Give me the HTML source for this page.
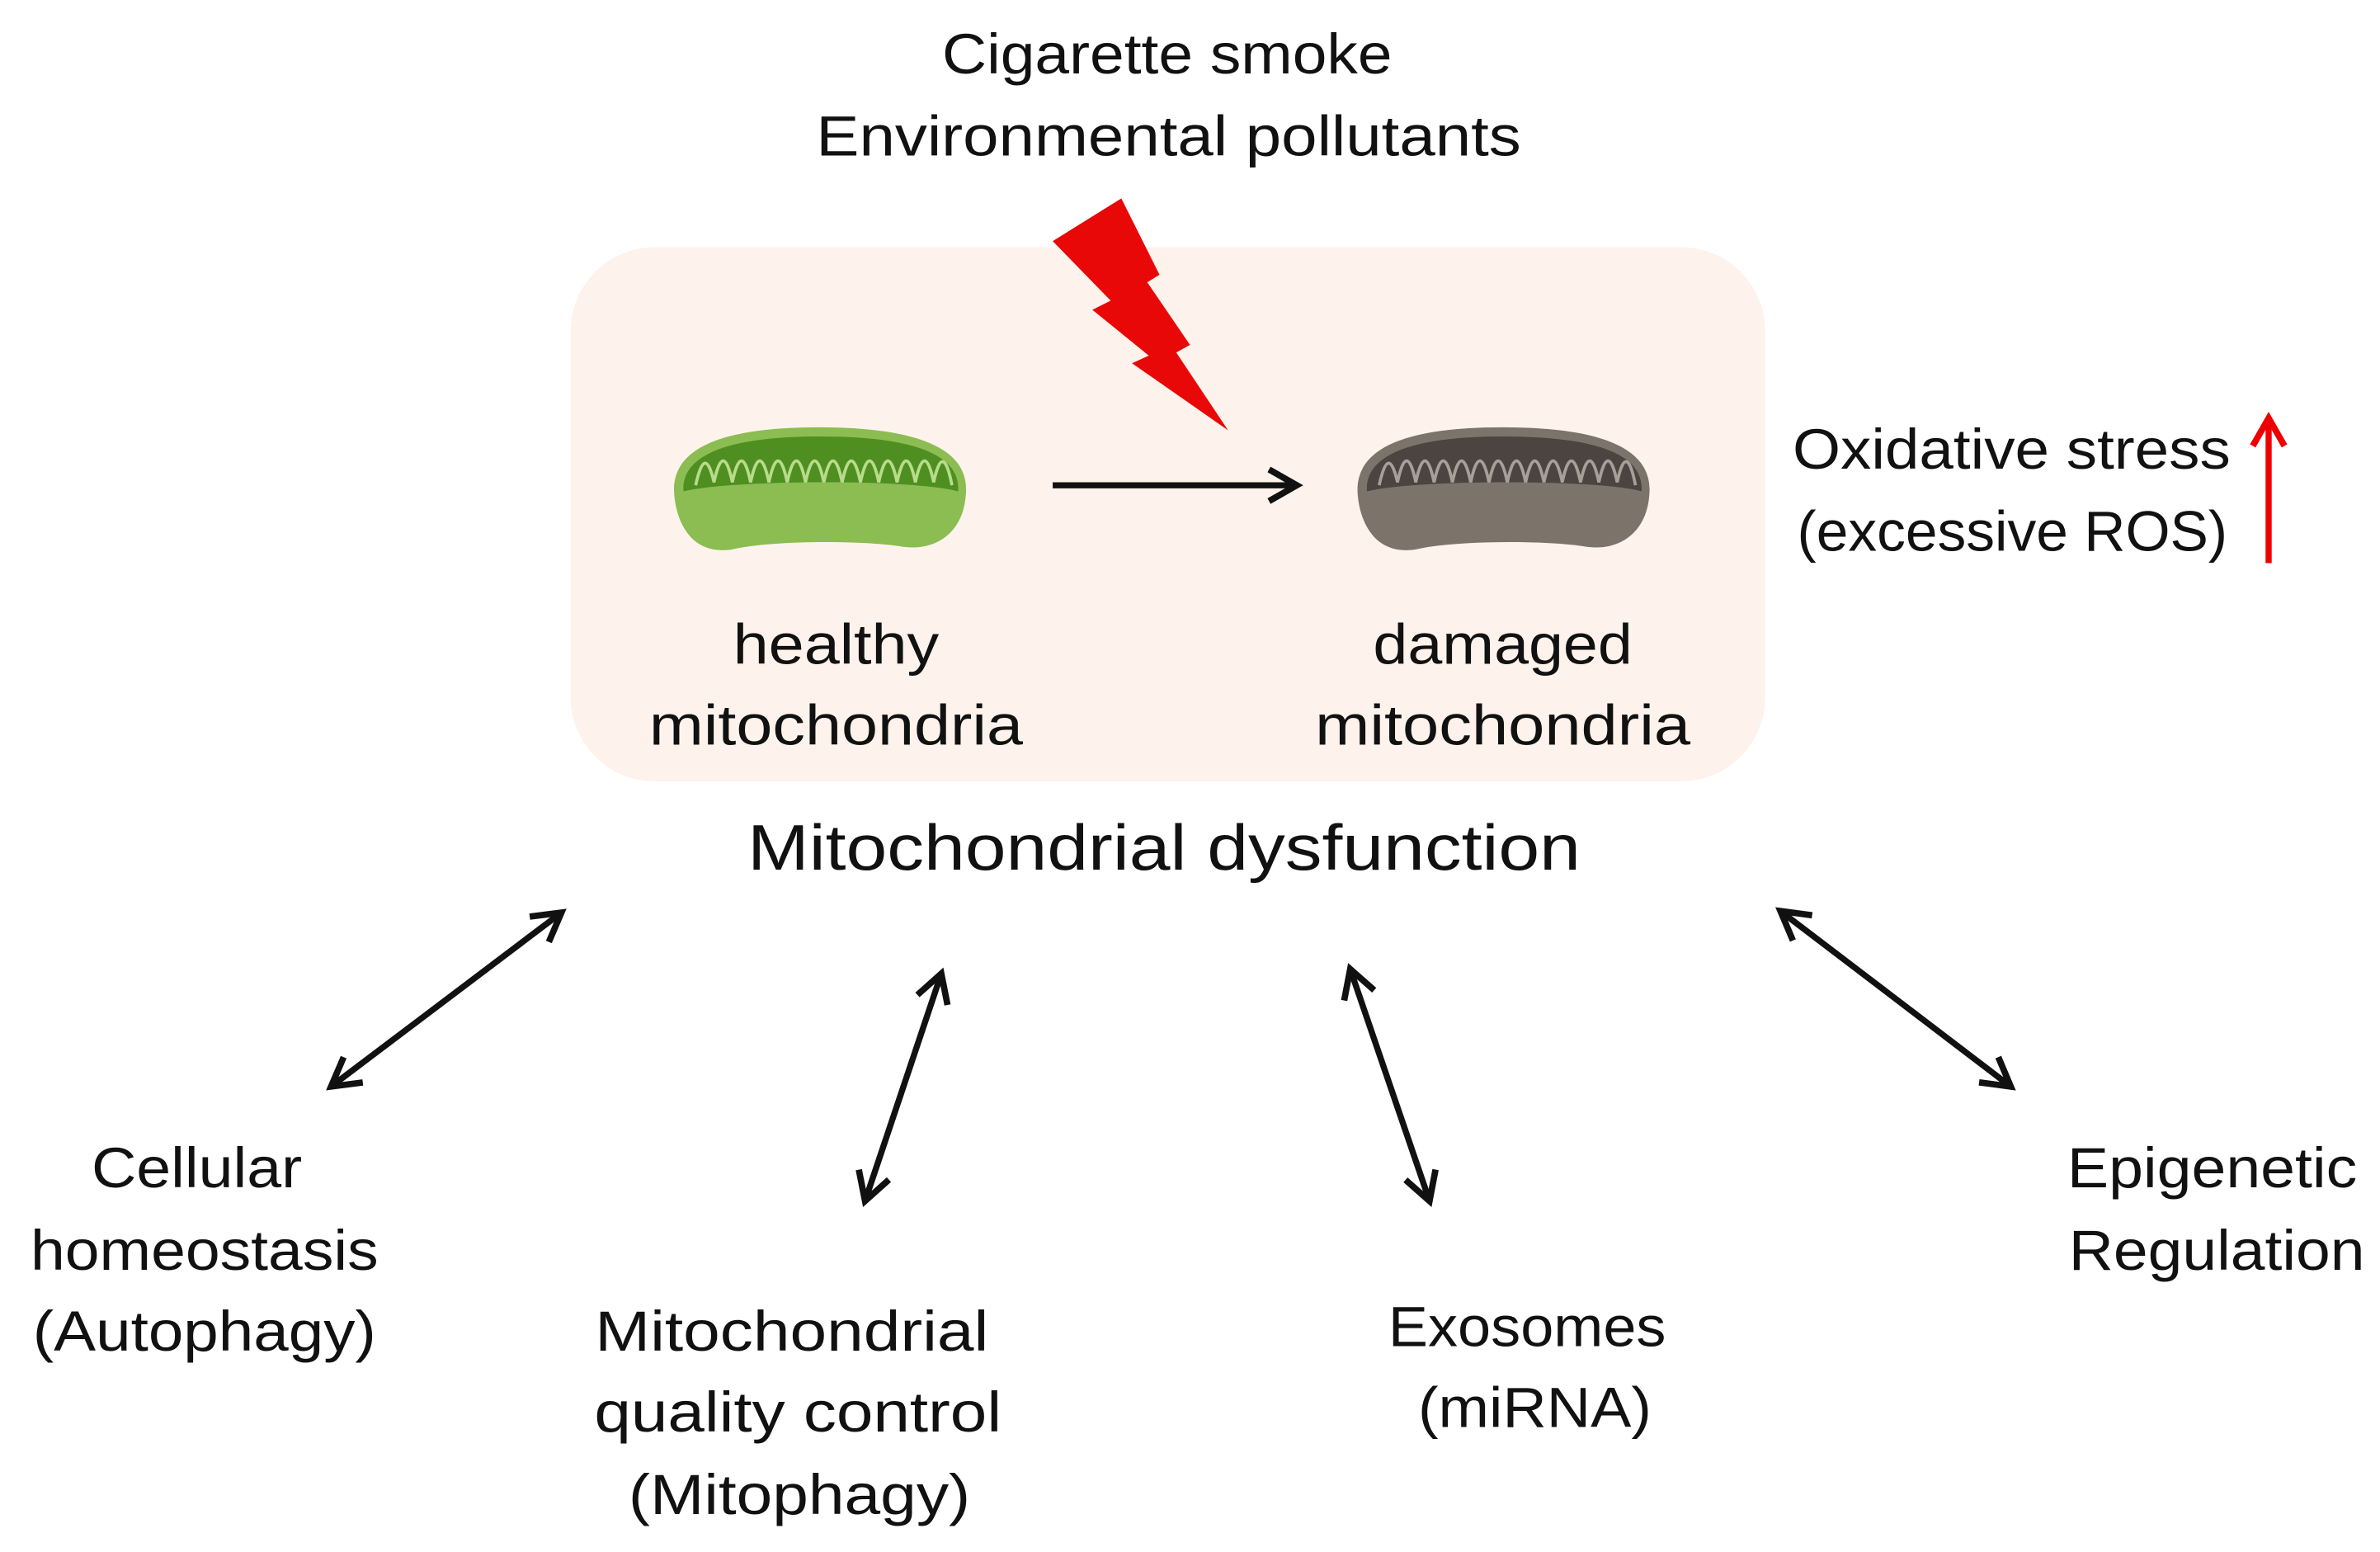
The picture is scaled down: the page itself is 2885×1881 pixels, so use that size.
<!DOCTYPE html>
<html><head><meta charset="utf-8"><style>
html,body{margin:0;padding:0;background:#fff}
svg{display:block}
text{font-family:"Liberation Sans",sans-serif;fill:#111;font-size:37px}
</style></head><body>
<svg width="2885" height="1881" viewBox="0 0 1560 1017" preserveAspectRatio="none" xmlns="http://www.w3.org/2000/svg">
<defs>
<marker id="ah2" viewBox="0 0 10 10" refX="8" refY="5" markerWidth="26" markerHeight="26" orient="auto-start-reverse" markerUnits="userSpaceOnUse">
<path d="M1,1 L8,5 L1,9" fill="none" stroke="#111" stroke-width="1.6"/></marker>
<marker id="ahr" viewBox="0 0 10 10" refX="8" refY="5" markerWidth="26" markerHeight="26" orient="auto" markerUnits="userSpaceOnUse">
<path d="M1,1 L8,5 L1,9" fill="none" stroke="#e00" stroke-width="1.6"/></marker>
</defs>
<text x="765" y="48" text-anchor="middle" textLength="295" lengthAdjust="spacingAndGlyphs">Cigarette smoke</text>
<text x="766" y="102" text-anchor="middle" textLength="462" lengthAdjust="spacingAndGlyphs">Environmental pollutants</text>
<rect x="374" y="162" width="783" height="350" rx="55" fill="#fdf3ec"/>
<polygon points="690,158 735,130 760,180 752,185 780,226 771,231 805,282 742,238 753,233 716,203 728,197" fill="#e80808"/>
<g>
<path d="M442,325 C438,287 490,280 537,280 C592,280 637,290 633,325 C631,350 612,362 590,358 C565,354 505,354 480,360 C455,364 444,345 442,325Z" fill="#8cbd52"/>
<path d="M448,322 C446,292 495,286 537,286 C588,286 630,294 628,322 C600,314 480,314 448,322Z" fill="#4f8f22"/>
<path d="M456,318 q6,-28 12,-2 q6,-28 12,0 q6,-28 12,0 q6,-28 12,0 q6,-28 12,0 q6,-28 12,0 q6,-28 12,0 q6,-28 12,0 q6,-28 12,0 q6,-28 12,0 q6,-28 12,0 q6,-28 12,0 q6,-28 12,0 q6,-28 12,2" fill="none" stroke="#b8dc8a" stroke-width="2"/>
</g>
<g>
<path d="M890,325 C886,287 938,280 985,280 C1040,280 1085,290 1081,325 C1079,350 1060,362 1038,358 C1013,354 953,354 928,360 C903,364 892,345 890,325Z" fill="#7c736b"/>
<path d="M896,322 C894,292 943,286 985,286 C1036,286 1078,294 1076,322 C1048,314 928,314 896,322Z" fill="#4c4440"/>
<path d="M904,318 q6,-28 12,-2 q6,-28 12,0 q6,-28 12,0 q6,-28 12,0 q6,-28 12,0 q6,-28 12,0 q6,-28 12,0 q6,-28 12,0 q6,-28 12,0 q6,-28 12,0 q6,-28 12,0 q6,-28 12,0 q6,-28 12,0 q6,-28 12,2" fill="none" stroke="#a8a098" stroke-width="2"/>
</g>
<line x1="690" y1="318" x2="850" y2="318" stroke="#111" stroke-width="4" marker-end="url(#ah2)"/>
<text x="548" y="435" text-anchor="middle" textLength="135" lengthAdjust="spacingAndGlyphs">healthy</text>
<text x="548" y="488" text-anchor="middle" textLength="245" lengthAdjust="spacingAndGlyphs">mitochondria</text>
<text x="985" y="435" text-anchor="middle" textLength="170" lengthAdjust="spacingAndGlyphs">damaged</text>
<text x="985" y="488" text-anchor="middle" textLength="246" lengthAdjust="spacingAndGlyphs">mitochondria</text>
<text x="1175" y="307" textLength="287" lengthAdjust="spacingAndGlyphs">Oxidative stress</text>
<text x="1178" y="361" textLength="282" lengthAdjust="spacingAndGlyphs">(excessive ROS)</text>
<line x1="1487" y1="369" x2="1487" y2="274" stroke="#e00" stroke-width="4" marker-end="url(#ahr)"/>
<text x="763" y="570" text-anchor="middle" style="font-size:42px" textLength="546" lengthAdjust="spacingAndGlyphs">Mitochondrial dysfunction</text>
<g stroke="#111" stroke-width="4" marker-start="url(#ah2)" marker-end="url(#ah2)">
<line x1="368" y1="598" x2="217" y2="712"/>
<line x1="617" y1="638" x2="567" y2="787"/>
<line x1="885" y1="635" x2="937" y2="787"/>
<line x1="1167" y1="597" x2="1318" y2="712"/>
</g>
<text x="129" y="778" text-anchor="middle" textLength="138" lengthAdjust="spacingAndGlyphs">Cellular</text>
<text x="134" y="832" text-anchor="middle" textLength="228" lengthAdjust="spacingAndGlyphs">homeostasis</text>
<text x="134" y="885" text-anchor="middle" textLength="225" lengthAdjust="spacingAndGlyphs">(Autophagy)</text>
<text x="519" y="885" text-anchor="middle" textLength="258" lengthAdjust="spacingAndGlyphs">Mitochondrial</text>
<text x="523" y="938" text-anchor="middle" textLength="267" lengthAdjust="spacingAndGlyphs">quality control</text>
<text x="524" y="992" text-anchor="middle" textLength="224" lengthAdjust="spacingAndGlyphs">(Mitophagy)</text>
<text x="1001" y="882" text-anchor="middle" textLength="182" lengthAdjust="spacingAndGlyphs">Exosomes</text>
<text x="1006" y="935" text-anchor="middle" textLength="153" lengthAdjust="spacingAndGlyphs">(miRNA)</text>
<text x="1450" y="778" text-anchor="middle" textLength="190" lengthAdjust="spacingAndGlyphs">Epigenetic</text>
<text x="1453" y="832" text-anchor="middle" textLength="194" lengthAdjust="spacingAndGlyphs">Regulation</text>
</svg>
</body></html>
